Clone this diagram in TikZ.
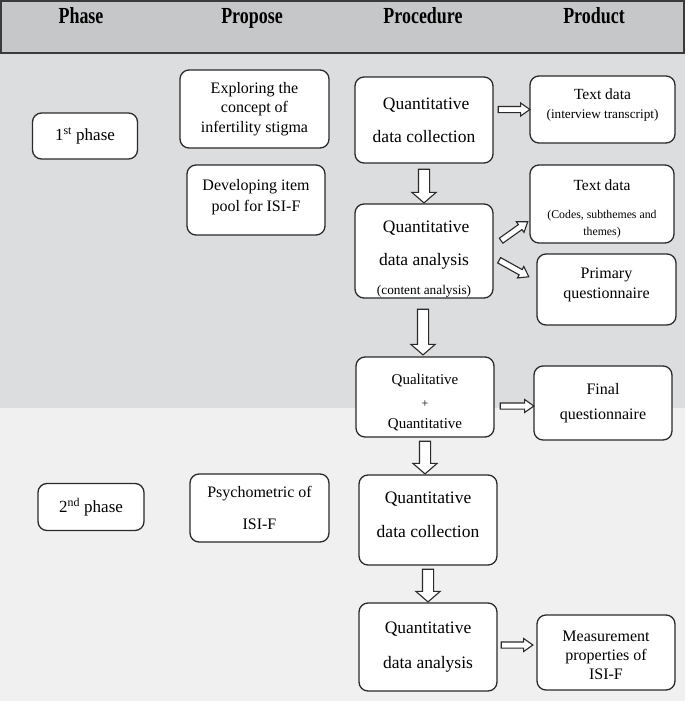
\documentclass[tikz,border=0pt]{standalone}
\usepackage{fontspec}
\setmainfont{Liberation Serif}
\newfontfamily\headfont[FakeStretch=0.78]{Liberation Serif}
\usetikzlibrary{calc,shapes.arrows}

\definecolor{headgray}{HTML}{C6C7C9}
\definecolor{headline}{HTML}{3A3A3A}
\definecolor{phaseonegray}{HTML}{DCDDDF}
\definecolor{phasetwogray}{HTML}{F0F0F0}
\definecolor{boxline}{HTML}{2A2A2A}

\tikzset{
  box/.style={draw=boxline, line width=1.3pt, fill=white, rounded corners=9pt,
    align=center, inner sep=0pt},
  headtext/.style={font=\headfont\bfseries\fontsize{23}{26}\selectfont, anchor=base},
  phasetext/.style={font=\fontsize{17}{20}\selectfont},
  proptext/.style={font=\fontsize{16}{19.5}\selectfont},
  proctext/.style={font=\fontsize{17.5}{33}\selectfont},
  prodtext/.style={font=\fontsize{16}{20}\selectfont},
  hollowarrow/.style={single arrow, draw=boxline, line width=1.1pt, fill=white,
    inner xsep=0pt, single arrow head indent=0pt, allow upside down},
  bigarrow/.style={hollowarrow, inner ysep=5pt, single arrow head extend=6.5pt,
    single arrow tip angle=98},
  smallarrow/.style={hollowarrow, inner ysep=2.5pt, single arrow head extend=3.5pt,
    single arrow tip angle=70}
}

\begin{document}
\begin{tikzpicture}[x=1pt, y=-1pt]
\useasboundingbox (0,0) rectangle (685,701);

% bands
\fill[phaseonegray] (0,53) rectangle (685,408);
\fill[phasetwogray] (0,408) rectangle (685,701);
\filldraw[fill=headgray, draw=headline, line width=1.6pt] (0.8,0.8) rectangle (684.2,53);

% header
\node[headtext] (hphase) at (81,24) {Phase};
\node[headtext] (hprop) at (252,24) {Propose};
\node[headtext] (hproc) at (423,24) {Procedure};
\node[headtext] (hprod) at (594,24) {Product};

% phase column
\node[box, phasetext, minimum width=105pt, minimum height=46pt] (ph1) at (85,136) {1\textsuperscript{st} phase};
\node[box, phasetext, minimum width=106pt, minimum height=47pt] (ph2) at (91,507) {2\textsuperscript{nd} phase};

% propose column
\node[box, proptext, minimum width=149pt, minimum height=78pt] (expl) at (254.5,109) {Exploring the\\concept of\\infertility stigma};
\node[box, proptext, minimum width=138pt, minimum height=70pt, font=\fontsize{16}{21}\selectfont] (devel) at (256,200) {Developing item\\pool for ISI-F\\[-11.5pt]};
\node[box, proptext, minimum width=139pt, minimum height=68pt, font=\fontsize{16}{32}\selectfont] (psych) at (259.5,508) {Psychometric of\\ISI-F};

% procedure column
\node[box, proctext, minimum width=138pt, minimum height=86pt] (qdc1) at (424,120) {\ Quantitative\\data collection};
\node[box, proctext, minimum width=138pt, minimum height=94pt] (qda1) at (424,251) {\ Quantitative\\data analysis\\[-4pt]{\fontsize{13.3}{16}\selectfont (content analysis)}\\[-45.5pt]};
\node[box, font=\fontsize{15}{23}\selectfont, minimum width=138pt, minimum height=80pt] (qual) at (425,397) {Qualitative\\{\fontsize{12}{14}\selectfont +}\\[-2pt]Quantitative\\[-32.5pt]};
\node[box, proctext, minimum width=138pt, minimum height=90pt, font=\fontsize{17.5}{34}\selectfont] (qdc2) at (428,520) {Quantitative\\data collection\\[-24pt]};
\node[box, proctext, minimum width=138pt, minimum height=88pt, font=\fontsize{17.5}{35}\selectfont] (qda2) at (428,647) {Quantitative\\data analysis};

% product column
\node[box, prodtext, minimum width=145pt, minimum height=67pt, font=\fontsize{15.5}{19}\selectfont] (txt1) at (602.5,109.5) {Text data\\{\fontsize{13.2}{16}\selectfont (interview transcript)}\\[-7.5pt]};
\node[box, minimum width=144pt, minimum height=78pt, font=\fontsize{15.5}{17}\selectfont] (txt2) at (602,204) {Text data\\[11pt]{\fontsize{11.8}{14}\selectfont (Codes, subthemes and}\\{\fontsize{11.8}{14}\selectfont themes)}\\[-24pt]};
\node[box, prodtext, minimum width=139pt, minimum height=71pt] (prim) at (606.5,289.5) {Primary\\questionnaire\\[-8pt]};
\node[box, prodtext, minimum width=138pt, minimum height=74pt, font=\fontsize{16}{25}\selectfont] (final) at (603,403) {Final\\questionnaire};
\node[box, prodtext, minimum width=138pt, minimum height=75pt, font=\fontsize{16}{19}\selectfont] (meas) at (606,652.5) {Measurement\\properties of\\ISI-F\\[-25pt]};

% arrow ends
\coordinate (a1s) at ($(qdc1.east |- txt1.west)+(4,0)$);
\coordinate (a1e) at (txt1.west);
\coordinate (a2s) at ($(qdc1.south)+(0,5)$);
\coordinate (a2e) at ($(qda1.north)+(0,-1)$);
\coordinate (a3s) at ($(qda1.east)+(7,-10)$);
\coordinate (a3e) at ($(txt2.west)+(-2,18)$);
\coordinate (a4s) at ($(qda1.east)+(5,9)$);
\coordinate (a4e) at ($(prim.west)+(-8,-13)$);
\coordinate (a5s) at ($(qda1.south)+(-1,10)$);
\coordinate (a5e) at ($(qda1.south |- qual.north)+(-1,-2)$);
\coordinate (a6s) at ($(qual.east |- final.west)+(5,3)$);
\coordinate (a6e) at ($(final.west)+(0,3)$);
\coordinate (a7s) at ($(qual.south)+(0,3)$);
\coordinate (a7e) at ($(qual.south |- qdc2.north)+(0,-1)$);
\coordinate (a8s) at ($(qdc2.south)+(0,3)$);
\coordinate (a8e) at ($(qdc2.south |- qda2.north)+(0,-1)$);
\coordinate (a9s) at ($(qda2.east)+(3,-2)$);
\coordinate (a9e) at ($(qda2.east -| meas.west)+(-4,-2)$);

% block arrows
\foreach \from/\to in {a1s/a1e, a3s/a3e, a4s/a4e, a6s/a6e, a9s/a9e}
  \path let \p1=($(\to)-(\from)$), \n1={veclen(\x1,\y1)} in
    (\from) -- (\to) node[pos=0, sloped, anchor=tail, smallarrow, minimum height=\n1] {};
\foreach \from/\to in {a2s/a2e, a5s/a5e, a7s/a7e, a8s/a8e}
  \path let \p1=($(\to)-(\from)$), \n1={veclen(\x1,\y1)} in
    (\from) -- (\to) node[pos=0, sloped, anchor=tail, bigarrow, minimum height=\n1] {};
\end{tikzpicture}
\end{document}
